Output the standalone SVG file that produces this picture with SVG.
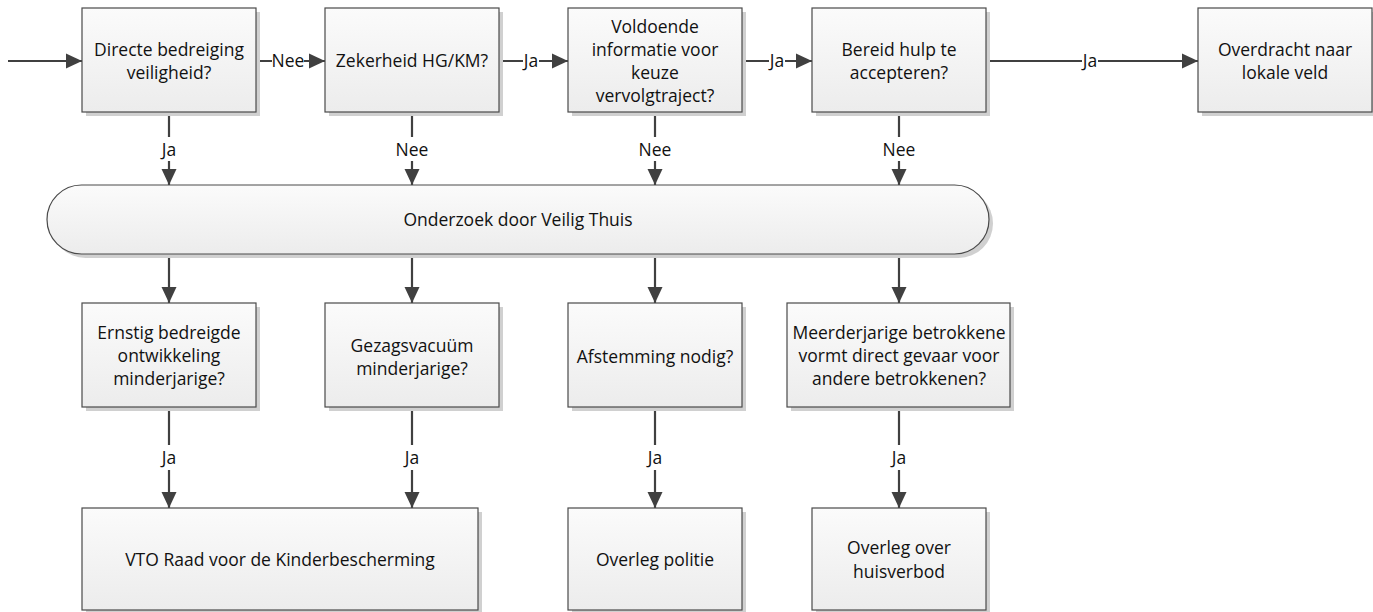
<svg xmlns="http://www.w3.org/2000/svg" width="1373" height="612" viewBox="0 0 1373 612">
<defs>
<linearGradient id="g" x1="0" y1="0" x2="0" y2="1">
<stop offset="0" stop-color="#fbfbfb"/>
<stop offset="1" stop-color="#ececec"/>
</linearGradient>
<marker id="ah" markerUnits="userSpaceOnUse" markerWidth="17" markerHeight="16" refX="16" refY="8" orient="auto">
<path d="M0,0.5 L16,8 L0,15.5 z" fill="#404040"/>
</marker>
<style>
.box{fill:url(#g);stroke:#4a4a4a;stroke-width:1.2}
.sh{fill:#d0d0d0}
.t{font-family:"Open Sans","Liberation Sans",sans-serif;font-size:17.5px;fill:#111;text-anchor:middle}
.c{stroke:#404040;stroke-width:2.2;fill:none;marker-end:url(#ah)}
.lb{fill:#fff}
</style>
</defs>
<rect width="1373" height="612" fill="#fff"/>

<g id="connectors">
<line class="c" x1="8" y1="61" x2="82" y2="61"/>
<line class="c" x1="256" y1="61" x2="325" y2="61"/>
<line class="c" x1="499" y1="61" x2="568" y2="61"/>
<line class="c" x1="742" y1="61" x2="812" y2="61"/>
<line class="c" x1="986" y1="61" x2="1198" y2="61"/>
<line class="c" x1="169" y1="112" x2="169" y2="185"/>
<line class="c" x1="412" y1="112" x2="412" y2="185"/>
<line class="c" x1="655" y1="112" x2="655" y2="185"/>
<line class="c" x1="899" y1="112" x2="899" y2="185"/>
<line class="c" x1="169" y1="254" x2="169" y2="303"/>
<line class="c" x1="412" y1="254" x2="412" y2="303"/>
<line class="c" x1="655" y1="254" x2="655" y2="303"/>
<line class="c" x1="899" y1="254" x2="899" y2="303"/>
<line class="c" x1="169" y1="407" x2="169" y2="508"/>
<line class="c" x1="412" y1="407" x2="412" y2="508"/>
<line class="c" x1="655" y1="407" x2="655" y2="508"/>
<line class="c" x1="899" y1="407" x2="899" y2="508"/>
<g id="labels">
<rect class="lb" x="272" y="52" width="32" height="18"/><text class="t" x="288" y="67">Nee</text>
<rect class="lb" x="523" y="52" width="16" height="18"/><text class="t" x="531" y="67">Ja</text>
<rect class="lb" x="769" y="52" width="16" height="18"/><text class="t" x="777" y="67">Ja</text>
<rect class="lb" x="1082" y="52" width="16" height="18"/><text class="t" x="1090" y="67">Ja</text>
<rect class="lb" x="159" y="137" width="20" height="24"/><text class="t" x="169" y="156">Ja</text>
<rect class="lb" x="396" y="137" width="32" height="24"/><text class="t" x="412" y="156">Nee</text>
<rect class="lb" x="639" y="137" width="32" height="24"/><text class="t" x="655" y="156">Nee</text>
<rect class="lb" x="883" y="137" width="32" height="24"/><text class="t" x="899" y="156">Nee</text>
<rect class="lb" x="159" y="445" width="20" height="25"/><text class="t" x="169" y="464">Ja</text>
<rect class="lb" x="402" y="445" width="20" height="25"/><text class="t" x="412" y="464">Ja</text>
<rect class="lb" x="645" y="445" width="20" height="25"/><text class="t" x="655" y="464">Ja</text>
<rect class="lb" x="889" y="445" width="20" height="25"/><text class="t" x="899" y="464">Ja</text>
</g>
</g>

<g id="n1"><rect class="sh" x="86" y="12" width="174" height="104"/><rect class="box" x="82" y="8" width="174" height="104"/>
<text class="t" x="169" y="56">Directe bedreiging</text><text class="t" x="169" y="79">veiligheid?</text></g>
<g id="n2"><rect class="sh" x="329" y="12" width="174" height="104"/><rect class="box" x="325" y="8" width="174" height="104"/>
<text class="t" x="412" y="67">Zekerheid HG/KM?</text></g>
<g id="n3"><rect class="sh" x="572" y="12" width="174" height="104"/><rect class="box" x="568" y="8" width="174" height="104"/>
<text class="t" x="655" y="33">Voldoende</text><text class="t" x="655" y="56">informatie voor</text><text class="t" x="655" y="79">keuze</text><text class="t" x="655" y="102">vervolgtraject?</text></g>
<g id="n4"><rect class="sh" x="816" y="12" width="174" height="104"/><rect class="box" x="812" y="8" width="174" height="104"/>
<text class="t" x="899" y="56">Bereid hulp te</text><text class="t" x="899" y="79">accepteren?</text></g>
<g id="n5"><rect class="sh" x="1202" y="12" width="174" height="104"/><rect class="box" x="1198" y="8" width="174" height="104"/>
<text class="t" x="1285" y="56">Overdracht naar</text><text class="t" x="1285" y="79">lokale veld</text></g>

<g id="pill"><rect class="sh" x="51" y="189" width="942" height="69" rx="34.5"/><rect class="box" x="47" y="185" width="942" height="69" rx="34.5"/>
<text class="t" x="518" y="226">Onderzoek door Veilig Thuis</text></g>

<g id="n6"><rect class="sh" x="86" y="307" width="174" height="104"/><rect class="box" x="82" y="303" width="174" height="104"/>
<text class="t" x="169" y="339">Ernstig bedreigde</text><text class="t" x="169" y="362">ontwikkeling</text><text class="t" x="169" y="385">minderjarige?</text></g>
<g id="n7"><rect class="sh" x="329" y="307" width="174" height="104"/><rect class="box" x="325" y="303" width="174" height="104"/>
<text class="t" x="412" y="352">Gezagsvacuüm</text><text class="t" x="412" y="375">minderjarige?</text></g>
<g id="n8"><rect class="sh" x="572" y="307" width="174" height="104"/><rect class="box" x="568" y="303" width="174" height="104"/>
<text class="t" x="655" y="363">Afstemming nodig?</text></g>
<g id="n9"><rect class="sh" x="791" y="307" width="223" height="104"/><rect class="box" x="787" y="303" width="223" height="104"/>
<text class="t" x="899" y="339">Meerderjarige betrokkene</text><text class="t" x="899" y="362">vormt direct gevaar voor</text><text class="t" x="899" y="385">andere betrokkenen?</text></g>

<g id="n10"><rect class="sh" x="86" y="512" width="396" height="102"/><rect class="box" x="82" y="508" width="396" height="102"/>
<text class="t" x="280" y="566">VTO Raad voor de Kinderbescherming</text></g>
<g id="n11"><rect class="sh" x="572" y="512" width="174" height="102"/><rect class="box" x="568" y="508" width="174" height="102"/>
<text class="t" x="655" y="566">Overleg politie</text></g>
<g id="n12"><rect class="sh" x="816" y="512" width="174" height="102"/><rect class="box" x="812" y="508" width="174" height="102"/>
<text class="t" x="899" y="554">Overleg over</text><text class="t" x="899" y="578">huisverbod</text></g>
</svg>
